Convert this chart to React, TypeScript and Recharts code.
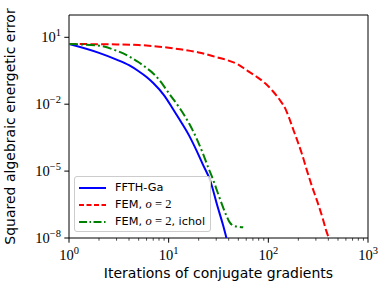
import React from 'react';
import { LineChart, Line, XAxis, YAxis, Legend, ReferenceArea } from 'recharts';

// iterations / squared error
const fftIter = [1, 2, 3, 4, 5, 6, 7, 9, 11, 13, 16, 19, 22, 26, 31, 35, 38];
const fftErr = [5.0, 2.0, 1.0, 0.56, 0.3, 0.166, 0.089, 0.025, 6.3e-3, 1.9e-3, 4e-4, 8.5e-5, 2e-5, 4e-6, 2.5e-7, 4e-8, 1e-8];

const femIter = [1, 2, 3, 5, 8, 10, 13, 20, 30, 40, 50, 61, 75, 93, 110, 131, 150, 165, 180, 195, 217, 245, 275, 309, 350, 380, 405];
const femErr = [5.0, 4.9, 4.8, 4.5, 3.8, 3.4, 2.9, 2.1, 1.3, 0.9, 0.6, 0.33, 0.18, 0.087, 0.04, 0.015, 5.6e-3, 1.9e-3, 6.3e-4, 2.4e-4, 6e-5, 1e-5, 2e-6, 4.5e-7, 8e-8, 2.2e-8, 1e-8];

const icholIter = [1, 2, 3, 4, 5, 6, 7, 8, 10, 13, 16, 19, 22, 25, 28, 31, 35, 38, 41, 45, 50, 56];
const icholErr = [5.0, 4.2, 2.5, 1.4, 0.76, 0.42, 0.24, 0.126, 0.032, 6.3e-3, 1.4e-3, 3e-4, 6.3e-5, 1.4e-5, 4e-6, 1.1e-6, 2.5e-7, 1e-7, 5e-8, 3.5e-8, 3.2e-8, 3e-8];

const xMajorTicks = [1, 10, 100, 1000];
const xMajorLabels = ['0', '1', '2', '3'];
const xMinorTicks = [2, 3, 4, 5, 6, 7, 8, 9, 20, 30, 40, 50, 60, 70, 80, 90, 200, 300, 400, 500, 600, 700, 800, 900];
const yTicks = [10, 1e-2, 1e-5, 1e-8];
const yTickLabels = ['1', '\u22122', '\u22125', '\u22128'];

const toPoints = (iters: number[], errs: number[]) => iters.map((x, i) => ({ x, y: errs[i] }));

const fftData = toPoints(fftIter, fftErr);
const femData = toPoints(femIter, femErr);
const icholData = toPoints(icholIter, icholErr);

const SANS = 'DejaVu Sans, sans-serif';
const MATH = 'Liberation Serif, serif';

const XTick = (props: any) => {
  const { x, y, payload } = props;
  const idx = xMajorTicks.indexOf(payload.value);
  const major = idx >= 0;
  return (
    <g>
      <line x1={x} x2={x} y1={y} y2={y + (major ? 4.7 : 2.7)} stroke="#000" strokeWidth={major ? 1 : 0.7} />
      {major && (
        <text x={x} y={y + 22} textAnchor="middle" fontFamily={MATH} fontSize={14.5} fill="#000">
          10<tspan dy={-6} fontSize={10.5}>{xMajorLabels[idx]}</tspan>
        </text>
      )}
    </g>
  );
};

const YTick = (props: any) => {
  const { x, y, payload } = props;
  const idx = yTicks.indexOf(payload.value);
  return (
    <g>
      <line x1={x - 4.7} x2={x} y1={y} y2={y} stroke="#000" strokeWidth={1} />
      <text x={x - 8} y={y + 5} textAnchor="end" fontFamily={MATH} fontSize={14.5} fill="#000">
        10<tspan dy={-6} fontSize={10.5}>{yTickLabels[idx]}</tspan>
      </text>
    </g>
  );
};

const legendItems = [
  { name: 'FFTH-Ga', color: '#0000ff', dash: undefined as string | undefined, math: false, tail: '' },
  { name: 'FEM, ', color: '#ff0000', dash: '5 2.5', math: true, tail: '' },
  { name: 'FEM, ', color: '#008000', dash: '8 2.5 1.5 2.5', math: true, tail: ', ichol' },
];

const renderLegend = () => (
  <div
    style={{
      boxSizing: 'border-box',
      width: 137,
      height: 56,
      border: '1px solid #cccccc',
      borderRadius: 3,
      background: 'rgba(255,255,255,0.8)',
      paddingTop: 2,
      paddingLeft: 4,
      fontFamily: SANS,
      fontSize: 11.3,
      color: '#000',
    }}
  >
    {legendItems.map((it, i) => (
      <div key={i} style={{ height: 17, display: 'flex', alignItems: 'center', whiteSpace: 'nowrap' }}>
        <svg width={27} height={4} style={{ marginRight: 9 }}>
          <line x1={0} x2={27} y1={2} y2={2} stroke={it.color} strokeWidth={2} strokeDasharray={it.dash} />
        </svg>
        <span>
          {it.name}
          {it.math && (
            <span style={{ fontFamily: MATH, fontSize: 12.5 }}>
              <i>o</i>&nbsp;=&nbsp;2
            </span>
          )}
          {it.tail}
        </span>
      </div>
    ))}
  </div>
);

const XLabel = (props: any) => {
  const { viewBox } = props;
  return (
    <text x={viewBox.x + viewBox.width / 2} y={viewBox.y + 40} textAnchor="middle" fontFamily={SANS} fontSize={14} fill="#000">
      Iterations of conjugate gradients
    </text>
  );
};

const YLabel = (props: any) => {
  const { viewBox } = props;
  const cy = viewBox.y + viewBox.height / 2;
  return (
    <text x={15} y={cy} transform={`rotate(-90 15 ${cy})`} textAnchor="middle" fontFamily={SANS} fontSize={14} fill="#000">
      Squared algebraic energetic error
    </text>
  );
};

export default function App() {
  return (
    <div style={{ width: 383, height: 288, background: '#fff' }}>
      <style>{'body{margin:0}'}</style>
      <LineChart width={383} height={288} margin={{ top: 15, right: 15, left: 0, bottom: 0 }}>
        <XAxis
          type="number"
          dataKey="x"
          scale="log"
          domain={[1, 1000]}
          allowDataOverflow
          ticks={[...xMajorTicks, ...xMinorTicks]}
          interval={0}
          height={50}
          tickSize={0}
          tickMargin={0}
          tickLine={false}
          axisLine={false}
          tick={<XTick />}
          label={<XLabel />}
        />
        <YAxis
          type="number"
          dataKey="y"
          scale="log"
          domain={[1e-8, 100]}
          allowDataOverflow
          ticks={yTicks}
          interval={0}
          width={69}
          tickSize={0}
          tickMargin={0}
          tickLine={false}
          axisLine={false}
          tick={<YTick />}
          label={<YLabel />}
        />
        <Line data={fftData} dataKey="y" name="FFTH-Ga" type="monotone" stroke="#0000ff" strokeWidth={2} dot={false} isAnimationActive={false} />
        <Line data={femData} dataKey="y" name="FEM, o = 2" type="monotone" stroke="#ff0000" strokeWidth={2} strokeDasharray="7.5 3.2" dot={false} isAnimationActive={false} />
        <Line data={icholData} dataKey="y" name="FEM, o = 2, ichol" type="monotone" stroke="#008000" strokeWidth={2} strokeDasharray="9 3 2 3" dot={false} isAnimationActive={false} />
        <ReferenceArea x1={1} x2={1000} y1={1e-8} y2={100} fill="none" stroke="#000" strokeWidth={1} ifOverflow="visible" />
        <Legend
          layout="vertical"
          align="center"
          verticalAlign="middle"
          wrapperStyle={{ left: 74, top: 176, width: 137, height: 56 }}
          content={renderLegend}
        />
      </LineChart>
    </div>
  );
}
